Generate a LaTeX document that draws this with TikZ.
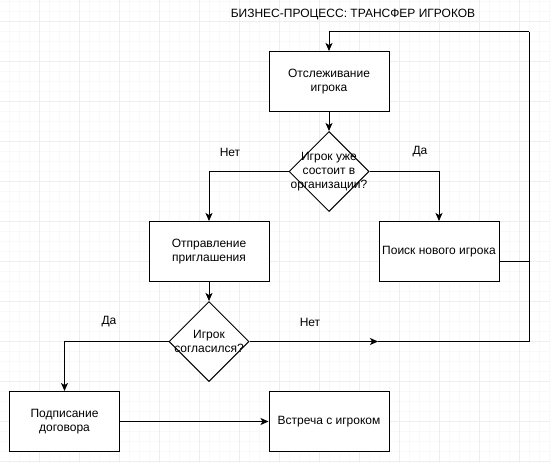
\documentclass[tikz,border=0pt]{standalone}
\usepackage{fontspec}
\setmainfont{Liberation Sans}
\usetikzlibrary{shapes.geometric,arrows.meta,calc}

\begin{document}
\begin{tikzpicture}[x=1pt,y=-1pt]
\def\xmax{550};
\def\ymax{463};

\useasboundingbox (0,0) rectangle (\xmax,\ymax);
\fill[white] (0,0) rectangle (\xmax,\ymax);

% Grid: faint lines every 10, darker ones every 40
\foreach \x in {9.5,19.5,...,549.5} \draw[gray!5,line width=0.8pt] (\x,0) -- (\x,\ymax);
\foreach \y in {1.5,11.5,...,461.5} \draw[gray!5,line width=0.8pt] (0,\y) -- (\xmax,\y);
\foreach \x in {39.5,79.5,...,549.5} \draw[gray!13,line width=0.8pt] (\x,0) -- (\x,\ymax);
\foreach \y in {21.5,61.5,...,461.5} \draw[gray!13,line width=0.8pt] (0,\y) -- (\xmax,\y);

% Styles for the blocks of the flow chart and for the texts
\tikzstyle{txt}=[font=\fontsize{12}{14}\selectfont, text=black, align=center]
\tikzstyle{block}=[draw, line width=1pt, fill=white, minimum width=120, minimum height=60, inner sep=0, txt]
\tikzstyle{ask}=[draw, line width=1pt, fill=white, diamond, aspect=1, minimum width=80, minimum height=80, inner sep=0]
\tikzstyle{link}=[line width=1pt, -{Stealth[length=8pt,width=7pt,inset=2pt]}]

% Title
\node[txt] (title) at (353,15) {БИЗНЕС-ПРОЦЕСС: ТРАНСФЕР ИГРОКОВ};

% The blocks, at their centres
\node[block] (track) at (329,81.5) {Отслеживание\\игрока};
\node[ask, label={[txt]center:Игрок уже\\состоит в\\организации?}] (check) at (329,171.5) {};
\node[block] (invite) at (209,251.5) {Отправление\\приглашения};
\node[block] (search) at (439,251.5) {Поиск нового игрока};
\node[ask, label={[txt]center:Игрок\\согласился?}] (agreed) at (209,341.5) {};
\node[block, minimum width=110] (sign) at (64.5,421.5) {Подписание\\договора};
\node[block] (meet) at (329,421.5) {Встреча с игроком};

% Answers written next to the branches
\node[txt] (no1) at (230,152) {Нет};
\node[txt] (yes1) at (420,152) {Да};
\node[txt] (yes2) at (109,322) {Да};
\node[txt] (no2) at (310,322) {Нет};

% Corners of the loop back to the top
\coordinate (mid) at (378,341.5);
\coordinate (loopbr) at (529,341.5);
\coordinate (looptop) at (529,31.5);

% Connectors
\draw[link] (track) -- (check);
\draw[link] (check.west) -| (invite.north);
\draw[link] (check.east) -| (search.north);
\draw[link] (invite) -- (agreed);
\draw[link] (agreed.west) -| (sign.north);
\draw[link] (sign) -- (meet);
\draw[link] (agreed.east) -- (mid);
\draw[line width=1pt] (mid) -- (loopbr) -- (looptop);
\draw[link] (looptop) -| (track.north);
\draw[line width=1pt] ([yshift=-10pt]search.east) -- ([yshift=-10pt]search.east -| loopbr);

\end{tikzpicture}
\end{document}
